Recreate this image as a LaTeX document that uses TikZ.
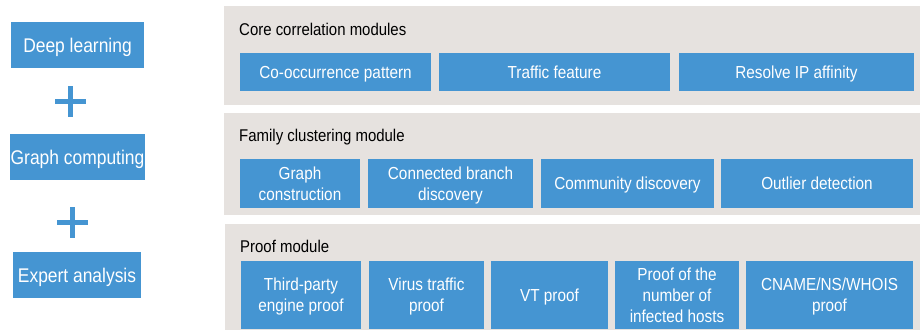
\documentclass[tikz,border=0pt]{standalone}
\usepackage{fontspec}
\setmainfont{Liberation Sans}[FakeStretch=0.88]
\definecolor{boxblue}{HTML}{4595D2}
\definecolor{panelgrey}{HTML}{E6E2DF}
\begin{document}
\begin{tikzpicture}[x=1pt,y=-1pt,
  panel/.style={fill=panelgrey, draw=none, inner sep=0pt, anchor=north west},
  bluebox/.style={fill=boxblue, text=white, inner sep=0pt, align=center,
    text depth=0pt, font=\fontsize{17.4}{21}\selectfont},
  leftbox/.style={bluebox, font=\fontsize{19.8}{23}\selectfont},
  paneltitle/.style={anchor=base west, inner sep=0pt, text=black,
    font=\fontsize{17}{20}\selectfont},
  plusbar/.style={draw=boxblue, line width=5.5pt}]
\useasboundingbox (0,0) rectangle (920,330);

% left column: the three ingredients
\node[leftbox, minimum width=133pt, minimum height=46pt] (deep) at (77.5,45) {Deep learning};
\node[leftbox, minimum width=135pt, minimum height=46pt] (graphc) at (77.5,157) {Graph computing};
\node[leftbox, minimum width=128pt, minimum height=46pt] (expert) at (77,275) {Expert analysis};

\coordinate (plusA) at (70.5,101.5);
\coordinate (plusB) at (72.5,222.5);
\draw[plusbar] (plusA) ++(-15.5,0) -- ++(31,0) (plusA) ++(0,-15.5) -- ++(0,31);
\draw[plusbar] (plusB) ++(-15.5,0) -- ++(31,0) (plusB) ++(0,-15.5) -- ++(0,31);

% right column: module panels
\node[panel, minimum width=696pt, minimum height=99pt] (core) at (224,6) {};
\node[panel, minimum width=696pt, minimum height=102pt] (family) at (224,113) {};
\node[panel, minimum width=695pt, minimum height=106pt] (proof) at (225,224) {};

\node[paneltitle] (coreT) at (239,35) {Core correlation modules};
\node[paneltitle] (familyT) at (239,141) {Family clustering module};
\node[paneltitle] (proofT) at (240,252) {Proof module};

% core correlation modules
\node[bluebox, minimum width=191pt, minimum height=38pt] (cooc) at (335.5,72) {Co-occurrence pattern};
\node[bluebox, minimum width=231pt, minimum height=38pt] (traffic) at (554.5,72) {Traffic feature};
\node[bluebox, minimum width=235pt, minimum height=38pt] (resolve) at (796.5,72) {Resolve IP affinity};

% family clustering module
\node[bluebox, minimum width=120pt, minimum height=49pt] (gcons) at (300,183.5) {Graph\\construction};
\node[bluebox, minimum width=165pt, minimum height=49pt] (branch) at (450.5,183.5) {Connected branch\\discovery};
\node[bluebox, minimum width=173pt, minimum height=49pt] (community) at (627.5,183.5) {Community discovery};
\node[bluebox, minimum width=192pt, minimum height=49pt] (outlier) at (817,183.5) {Outlier detection};

% proof module
\node[bluebox, minimum width=120pt, minimum height=68pt] (third) at (301,295) {Third-party\\engine proof};
\node[bluebox, minimum width=115pt, minimum height=68pt] (virus) at (426.5,295) {Virus traffic\\proof};
\node[bluebox, minimum width=117pt, minimum height=68pt] (vt) at (549.5,295) {VT proof};
\node[bluebox, minimum width=124pt, minimum height=68pt] (hosts) at (677,295) {Proof of the\\number of\\infected hosts};
\node[bluebox, minimum width=167pt, minimum height=68pt] (cname) at (829.5,295) {CNAME/NS/WHOIS\\proof};
\end{tikzpicture}
\end{document}
